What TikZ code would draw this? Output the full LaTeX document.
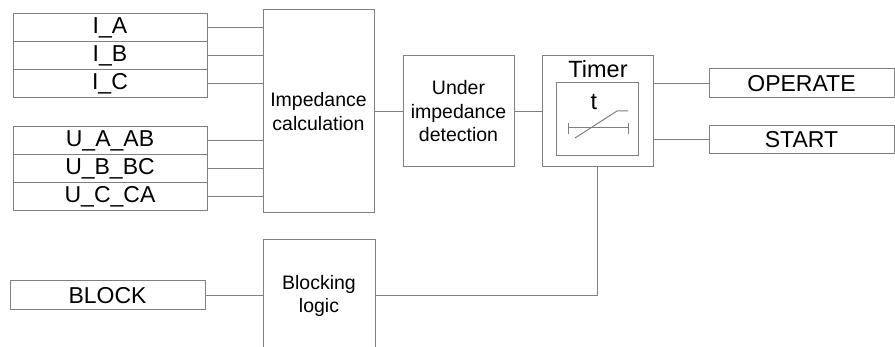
\documentclass[tikz,border=0pt]{standalone}
\usepackage{fontspec}
\setmainfont{Liberation Sans}
\definecolor{linegray}{HTML}{808080}
\tikzset{
  x=1pt, y=-1pt,
  wire/.style={draw=linegray, line width=1pt},
  sigbox/.style={draw=linegray, line width=1pt, inner sep=0pt, anchor=center,
    font=\fontsize{23}{26}\selectfont},
  blockbox/.style={draw=linegray, line width=1pt, inner sep=0pt, anchor=center,
    align=center, font=\fontsize{19.5}{23.5}\selectfont},
}
\begin{document}
\begin{tikzpicture}
\clip (0,0) rectangle (895,347);
\fill[white] (0,0) rectangle (895,347);
% input signals
\node[sigbox, minimum width=194pt, minimum height=28pt] (ia) at (110,28) {I\_A};
\node[sigbox, minimum width=194pt, minimum height=28pt] (ib) at (110,56) {I\_B};
\node[sigbox, minimum width=194pt, minimum height=28pt] (ic) at (110,84) {I\_C};
\node[sigbox, minimum width=194pt, minimum height=28pt] (ua) at (110,141) {U\_A\_AB};
\node[sigbox, minimum width=194pt, minimum height=28pt] (ub) at (110,169) {U\_B\_BC};
\node[sigbox, minimum width=194pt, minimum height=28pt] (uc) at (110,197) {U\_C\_CA};
\node[sigbox, minimum width=195pt, minimum height=29pt] (blk) at (107.5,295.5) {BLOCK};
% blocks
\node[blockbox, minimum width=111pt, minimum height=203pt] (imp) at (318.5,111.5) {Impedance\\calculation};
\node[blockbox, minimum width=111pt, minimum height=111pt] (uid) at (458.5,111.5) {Under\\impedance\\detection};
\node[blockbox, minimum width=112pt, minimum height=112pt] (bl) at (319,296) {Blocking\\logic};
\node[blockbox, minimum width=111pt, minimum height=111pt] (tim) at (597.5,111.5) {};
\node[blockbox, minimum width=82pt, minimum height=73pt] (tin) at (597,119.5) {};
\node[font=\fontsize{23.5}{26}\selectfont, inner sep=0pt] (timlbl) at (598,69) {Timer};
\node[font=\fontsize{23.5}{26}\selectfont, inner sep=0pt] (tlbl) at (594,102) {t};
% timer symbol
\draw[wire] (568,128) -- (628,128);
\draw[wire] (568,123) -- (568,134);
\draw[wire] (628,123) -- (628,134);
\draw[wire] (575,138) -- (617,111) -- (628,111);
% outputs
\node[sigbox, minimum width=185pt, minimum height=29pt] (op) at (801.5,83.5) {OPERATE};
\node[sigbox, minimum width=185pt, minimum height=28pt] (st) at (801.5,140) {START};
% connectors
\foreach \n in {ia,ib,ic,ua,ub,uc}
  \draw[wire] (\n.east) -- (\n.east -| imp.west);
\draw[wire] (imp.east) -- (uid.west);
\draw[wire] (uid.east) -- (tim.west);
\draw[wire] (op.west -| tim.east) -- (op.west);
\draw[wire] (st.west -| tim.east) -- (st.west);
\draw[wire] (blk.east) -- (blk.east -| bl.west);
\draw[wire] (tim.south) -- (tim.south |- blk.east) -- (bl.east |- blk.east);
\end{tikzpicture}
\end{document}
